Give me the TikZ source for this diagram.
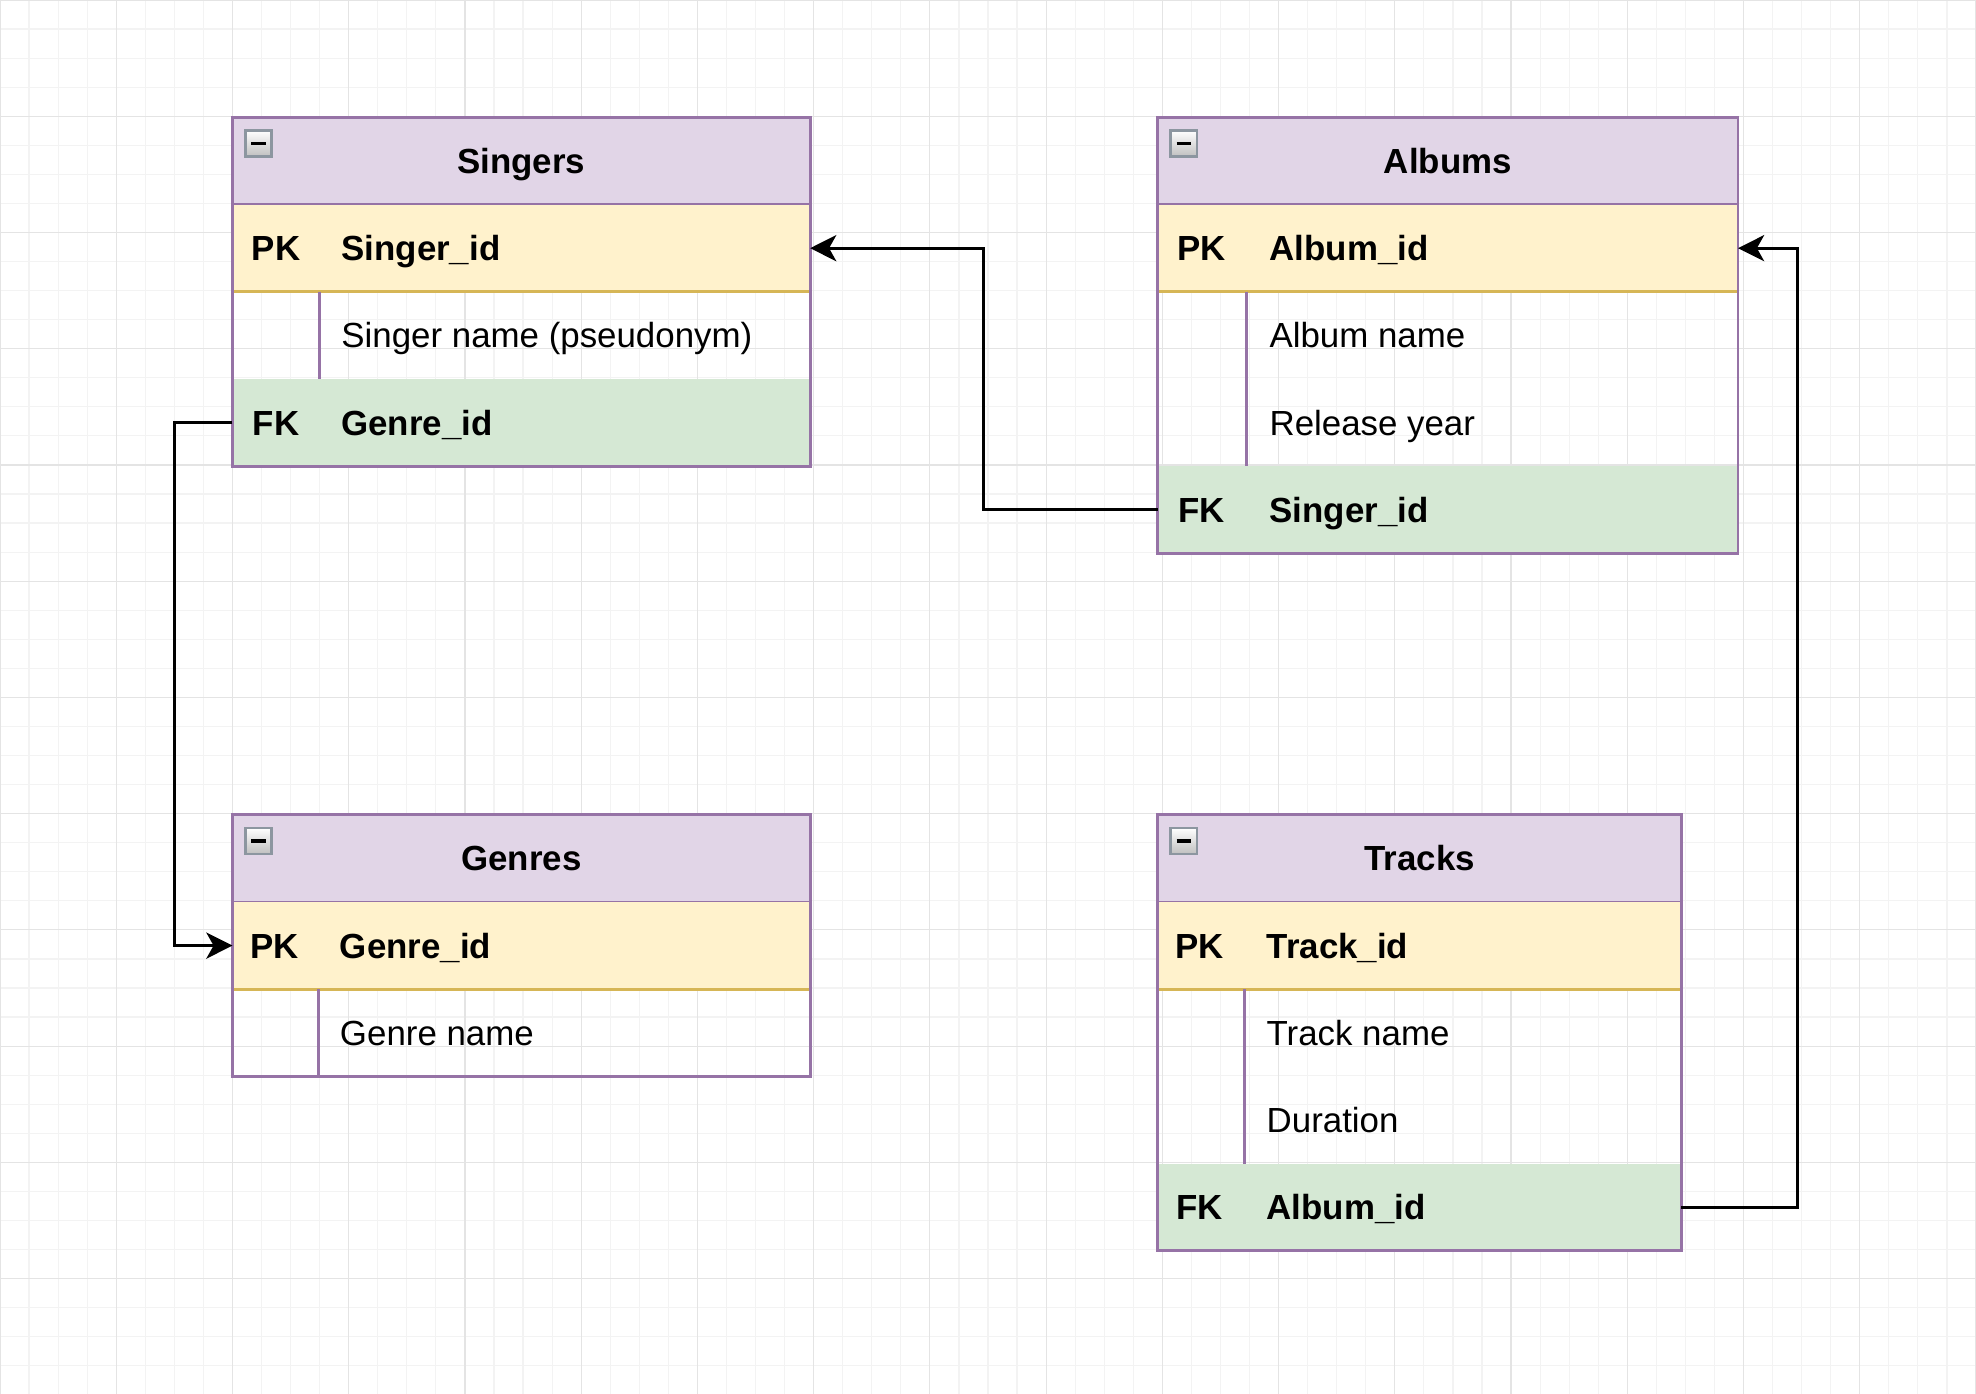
\documentclass[tikz,border=0pt]{standalone}
\usepackage{fontspec}
\setmainfont{Liberation Sans}
\usetikzlibrary{positioning,calc,arrows.meta}

\definecolor{headfill}{HTML}{E1D5E7}
\definecolor{tablestroke}{HTML}{9673A6}
\definecolor{pkfill}{HTML}{FFF2CC}
\definecolor{pkstroke}{HTML}{D6B656}
\definecolor{fkfill}{HTML}{D5E8D4}
\definecolor{iconline}{HTML}{8C96A0}
\definecolor{minorgrid}{HTML}{F3F3F3}
\definecolor{majorgrid}{HTML}{E4E4E4}

% collapse button in the top left corner of a table header
\newcommand{\minusicon}[1]{%
  \shade[top color=white, bottom color=black!25, draw=iconline, line width=0.9pt]
    ($(#1.north west)+(4.5,4.5)$) rectangle ++(9,9);
  \draw[line width=1.3pt] ($(#1.north west)+(6.5,9)$) -- ++(5,0);}

\begin{document}
\begin{tikzpicture}[x=1pt,y=-1pt,
  every node/.style={inner sep=0, outer sep=0},
  header/.style={draw=tablestroke, fill=headfill, line width=1pt, anchor=north west,
    minimum height=30, font=\bfseries\fontsize{12}{14}\selectfont, text height=8.6pt, text depth=0pt},
  pkrow/.style={fill=pkfill, anchor=north west, minimum height=30},
  fkrow/.style={fill=fkfill, anchor=north west, minimum height=30},
  plainrow/.style={anchor=north west, minimum height=30},
  keytext/.style={font=\bfseries\fontsize{12}{14}\selectfont, text height=8.6pt, text depth=0pt},
  fieldtext/.style={anchor=west, font=\fontsize{12}{14}\selectfont, text height=8.6pt, text depth=0pt},
  boldfield/.style={fieldtext, font=\bfseries\fontsize{12}{14}\selectfont},
  tableline/.style={draw=tablestroke, line width=1pt},
  pkline/.style={draw=pkstroke, line width=1pt},
  fkarrow/.style={-{Stealth[length=9pt,width=9pt,inset=2.5pt]}, line width=1pt}]

\useasboundingbox (0,0) rectangle (680,479.7);

% Background grid
\fill[white] (0,0) rectangle (680,479.7);
\foreach \x in {0,10,...,680} \draw[minorgrid, line width=0.4pt] (\x,0) -- (\x,479.7);
\foreach \y in {0,10,...,470} \draw[minorgrid, line width=0.4pt] (0,\y) -- (680,\y);
\foreach \x in {0,40,...,680} \draw[majorgrid, line width=0.4pt] (\x,0) -- (\x,479.7);
\foreach \y in {0,40,...,470} \draw[majorgrid, line width=0.4pt] (0,\y) -- (680,\y);

% Singers table
\node[header, minimum width=198.8] (singers) at (80,40.4) {Singers};
\node[pkrow, minimum width=198.8] (singersPK) at (singers.south west) {};
\node[plainrow, minimum width=198.8] (singersName) at (singersPK.south west) {};
\node[fkrow, minimum width=198.8] (singersFK) at (singersName.south west) {};
\draw[pkline] (singersPK.south west) -- (singersPK.south east);
\draw[tableline] ($(singersName.north west)+(30,0)$) -- ($(singersName.south west)+(30,0)$);
\draw[tableline] (singers.north west) rectangle (singersFK.south east);
\minusicon{singers}
\node[keytext] (singersPKkey) at ($(singersPK.west)+(15,0)$) {PK};
\node[boldfield] (singersPKtext) at ($(singersPK.west)+(37.5,0)$) {Singer\_id};
\node[fieldtext] (singersNametext) at ($(singersName.west)+(37.5,0)$) {Singer name (pseudonym)};
\node[keytext] (singersFKkey) at ($(singersFK.west)+(15,0)$) {FK};
\node[boldfield] (singersFKtext) at ($(singersFK.west)+(37.5,0)$) {Genre\_id};

% Albums table
\node[header, minimum width=199.7] (albums) at (398.4,40.4) {Albums};
\node[pkrow, minimum width=199.7] (albumsPK) at (albums.south west) {};
\node[plainrow, minimum width=199.7] (albumsName) at (albumsPK.south west) {};
\node[plainrow, minimum width=199.7] (albumsYear) at (albumsName.south west) {};
\node[fkrow, minimum width=199.7] (albumsFK) at (albumsYear.south west) {};
\draw[pkline] (albumsPK.south west) -- (albumsPK.south east);
\draw[tableline] ($(albumsName.north west)+(30.5,0)$) -- ($(albumsYear.south west)+(30.5,0)$);
\draw[tableline] (albums.north west) rectangle (albumsFK.south east);
\minusicon{albums}
\node[keytext] (albumsPKkey) at ($(albumsPK.west)+(15,0)$) {PK};
\node[boldfield] (albumsPKtext) at ($(albumsPK.west)+(38.5,0)$) {Album\_id};
\node[fieldtext] (albumsNametext) at ($(albumsName.west)+(38.5,0)$) {Album name};
\node[fieldtext] (albumsYeartext) at ($(albumsYear.west)+(38.5,0)$) {Release year};
\node[keytext] (albumsFKkey) at ($(albumsFK.west)+(15,0)$) {FK};
\node[boldfield] (albumsFKtext) at ($(albumsFK.west)+(38.5,0)$) {Singer\_id};

% Genres table
\node[header, minimum width=198.8] (genres) at (80,280.4) {Genres};
\node[pkrow, minimum width=198.8] (genresPK) at (genres.south west) {};
\node[plainrow, minimum width=198.8] (genresName) at (genresPK.south west) {};
\draw[pkline] (genresPK.south west) -- (genresPK.south east);
\draw[tableline] ($(genresName.north west)+(29.5,0)$) -- ($(genresName.south west)+(29.5,0)$);
\draw[tableline] (genres.north west) rectangle (genresName.south east);
\minusicon{genres}
\node[keytext] (genresPKkey) at ($(genresPK.west)+(14.5,0)$) {PK};
\node[boldfield] (genresPKtext) at ($(genresPK.west)+(37,0)$) {Genre\_id};
\node[fieldtext] (genresNametext) at ($(genresName.west)+(37,0)$) {Genre name};

% Tracks table
\node[header, minimum width=180.2] (tracks) at (398.4,280.4) {Tracks};
\node[pkrow, minimum width=180.2] (tracksPK) at (tracks.south west) {};
\node[plainrow, minimum width=180.2] (tracksName) at (tracksPK.south west) {};
\node[plainrow, minimum width=180.2] (tracksDur) at (tracksName.south west) {};
\node[fkrow, minimum width=180.2] (tracksFK) at (tracksDur.south west) {};
\draw[pkline] (tracksPK.south west) -- (tracksPK.south east);
\draw[tableline] ($(tracksName.north west)+(30,0)$) -- ($(tracksDur.south west)+(30,0)$);
\draw[tableline] (tracks.north west) rectangle (tracksFK.south east);
\minusicon{tracks}
\node[keytext] (tracksPKkey) at ($(tracksPK.west)+(14.5,0)$) {PK};
\node[boldfield] (tracksPKtext) at ($(tracksPK.west)+(37.5,0)$) {Track\_id};
\node[fieldtext] (tracksNametext) at ($(tracksName.west)+(37.5,0)$) {Track name};
\node[fieldtext] (tracksDurtext) at ($(tracksDur.west)+(37.5,0)$) {Duration};
\node[keytext] (tracksFKkey) at ($(tracksFK.west)+(14.5,0)$) {FK};
\node[boldfield] (tracksFKtext) at ($(tracksFK.west)+(37.5,0)$) {Album\_id};

% Foreign key references
\draw[fkarrow] (albumsFK.west) -- ++(-60,0) |- (singersPK.east);
\draw[fkarrow] (singersFK.west) -- ++(-20,0) |- (genresPK.west);
\draw[fkarrow] (tracksFK.east) -- ++(40,0) |- (albumsPK.east);
\end{tikzpicture}
\end{document}
